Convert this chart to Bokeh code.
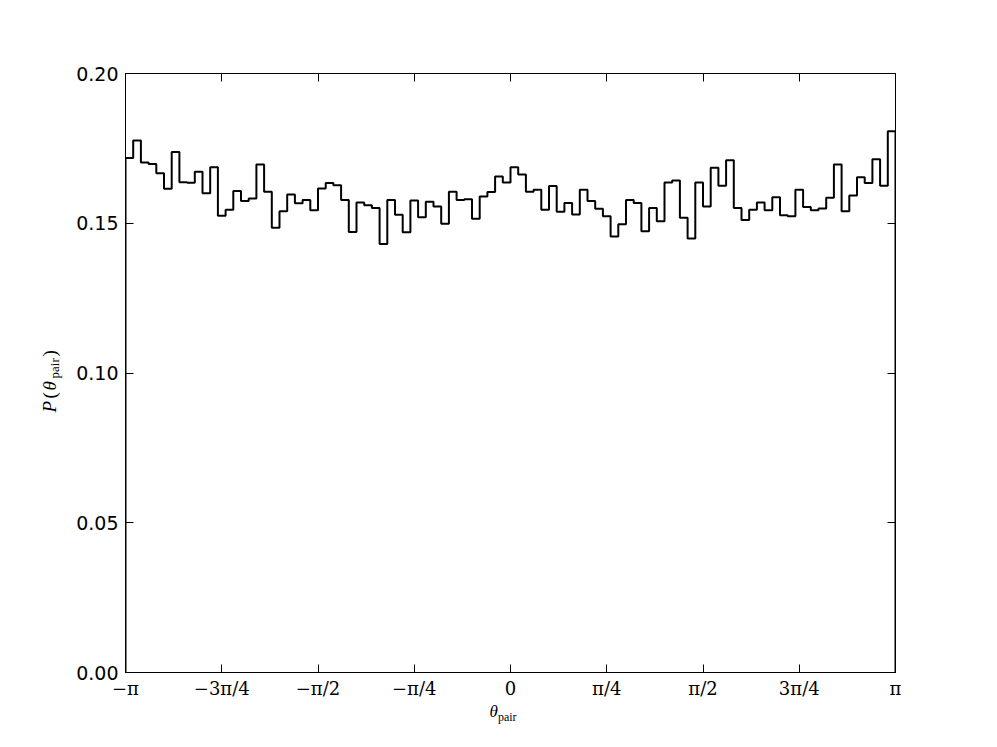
import numpy as np
from bokeh.plotting import figure
from bokeh.layouts import row, column
from bokeh.models import (Range1d, FixedTicker, LinearAxis, CustomJSTickFormatter,
                          NumeralTickFormatter)
from bokeh.core.properties import value
from bokeh.embed import file_html
from bokeh.resources import INLINE

# ---- data ----
probabilities = [
    0.1718, 0.1776, 0.1703, 0.1698, 0.1667, 0.1615, 0.1738, 0.1637, 0.1635, 0.1672,
    0.1600, 0.1687, 0.1525, 0.1545, 0.1608, 0.1574, 0.1583, 0.1696, 0.1605, 0.1485,
    0.1540, 0.1596, 0.1567, 0.1578, 0.1543, 0.1616, 0.1634, 0.1627, 0.1578, 0.1471,
    0.1569, 0.1560, 0.1551, 0.1431, 0.1578, 0.1528, 0.1470, 0.1576, 0.1520, 0.1572,
    0.1556, 0.1498, 0.1605, 0.1578, 0.1580, 0.1515, 0.1589, 0.1604, 0.1656, 0.1636,
    0.1687, 0.1663, 0.1605, 0.1612, 0.1545, 0.1624, 0.1538, 0.1568, 0.1529, 0.1612,
    0.1574, 0.1548, 0.1523, 0.1456, 0.1497, 0.1578, 0.1568, 0.1473, 0.1551, 0.1507,
    0.1636, 0.1643, 0.1518, 0.1449, 0.1636, 0.1556, 0.1685, 0.1625, 0.1710, 0.1551,
    0.1511, 0.1545, 0.1569, 0.1543, 0.1587, 0.1527, 0.1523, 0.1612, 0.1554, 0.1543,
    0.1549, 0.1585, 0.1696, 0.1540, 0.1593, 0.1654, 0.1634, 0.1714, 0.1625, 0.1807,
]
n_bins = len(probabilities)
x_min, x_max = -np.pi, np.pi
x_ticks = [k * np.pi / 4 for k in range(-4, 5)]
x_tick_labels = ["\u2212\u03c0", "\u22123\u03c0/4", "\u2212\u03c0/2", "\u2212\u03c0/4", "0",
                 "\u03c0/4", "\u03c0/2", "3\u03c0/4", "\u03c0"]
y_ticks = [0.0, 0.05, 0.10, 0.15, 0.20]

# ---- page geometry (pixels) ----
W, H = 990, 740
YLAB_W = 70          # strip holding the y-axis label
XLAB_H = 39          # strip holding the x-axis label
MAIN_W, MAIN_H = W - YLAB_W, H - XLAB_H

# ---- step outline of the histogram ----
edges = np.linspace(x_min, x_max, n_bins + 1)
xs = np.repeat(edges, 2)
ys = np.concatenate([[0.0], np.repeat(probabilities, 2), [0.0]])

p = figure(width=MAIN_W, height=MAIN_H, output_backend="svg", toolbar_location=None,
           x_range=Range1d(x_min, x_max), y_range=Range1d(0, 0.2),
           x_axis_location=None, y_axis_location=None,
           min_border_left=125 - YLAB_W, min_border_right=95, min_border_top=73,
           min_border_bottom=MAIN_H - 672)
p.background_fill_color = "white"
p.border_fill_color = "white"
p.outline_line_color = "black"
p.outline_line_width = 1
p.grid.visible = False

p.line(xs, ys, line_color="black", line_width=2)

xt = FixedTicker(ticks=x_ticks)
yt = FixedTicker(ticks=y_ticks)
xfmt = CustomJSTickFormatter(args=dict(labels=x_tick_labels),
                             code="return labels[Math.round(tick/(Math.PI/4))+4];")
blank = CustomJSTickFormatter(code="return '';")


def style(ax):
    ax.axis_line_color = "black"
    ax.axis_line_width = 1
    ax.major_tick_in = 8
    ax.major_tick_out = 0
    ax.major_tick_line_color = "black"
    ax.minor_tick_line_color = None


xb = LinearAxis(ticker=xt, formatter=xfmt)
style(xb)
xb.major_label_text_font = "DejaVu Serif"
xb.major_label_text_font_size = "18px"
xb.major_label_text_color = "black"
xb.major_label_standoff = 5
p.add_layout(xb, "below")

yl = LinearAxis(ticker=yt, formatter=NumeralTickFormatter(format="0.00"))
style(yl)
yl.major_label_text_font = "DejaVu Sans"
yl.major_label_text_font_size = "19px"
yl.major_label_text_color = "black"
yl.major_label_standoff = 7
p.add_layout(yl, "left")

xa = LinearAxis(ticker=xt, formatter=blank)
style(xa)
p.add_layout(xa, "above")
yr = LinearAxis(ticker=yt, formatter=blank)
style(yr)
p.add_layout(yr, "right")


def strip(width, height, x0):
    f = figure(width=width, height=height, output_backend="svg", toolbar_location=None,
               x_range=Range1d(x0, x0 + width), y_range=Range1d(0, height),
               x_axis_location=None, y_axis_location=None,
               min_border=0, min_border_left=0, min_border_right=0,
               min_border_top=0, min_border_bottom=0)
    f.outline_line_color = None
    f.grid.visible = False
    f.background_fill_color = "white"
    f.border_fill_color = "white"
    return f


serif = value("Liberation Serif")
txt = dict(text_color="black", text_font=serif,
           text_baseline=value("middle"), text_align=value("left"))

# x-axis label: theta_pair (page pixel positions; strip y counted from its bottom)
xl = strip(MAIN_W, XLAB_H, YLAB_W)
xl.text(x=[505], y=[H - 711], text=["\u03b8"], text_font_size="17px",
        text_font_style="italic", **txt)
xl.text(x=[515], y=[H - 716], text=["pair"], text_font_size="12px", **txt)

# y-axis label: P(theta_pair), rotated
ylf = strip(YLAB_W, H, 0)
ylf.text(x=[49, 49], y=[H - 412, H - 390], text=["P", "\u03b8"], angle=np.pi / 2,
         text_font_size="19px", text_font_style="italic", **txt)
ylf.text(x=[49, 49], y=[H - 398, H - 356], text=["(", ")"], angle=np.pi / 2,
         text_font_size="19px", **txt)
ylf.text(x=[54], y=[H - 378], text=["pair"], angle=np.pi / 2, text_font_size="13px", **txt)

layout = row(ylf, column(p, xl))
open("out.html", "w").write(file_html(layout, INLINE))
